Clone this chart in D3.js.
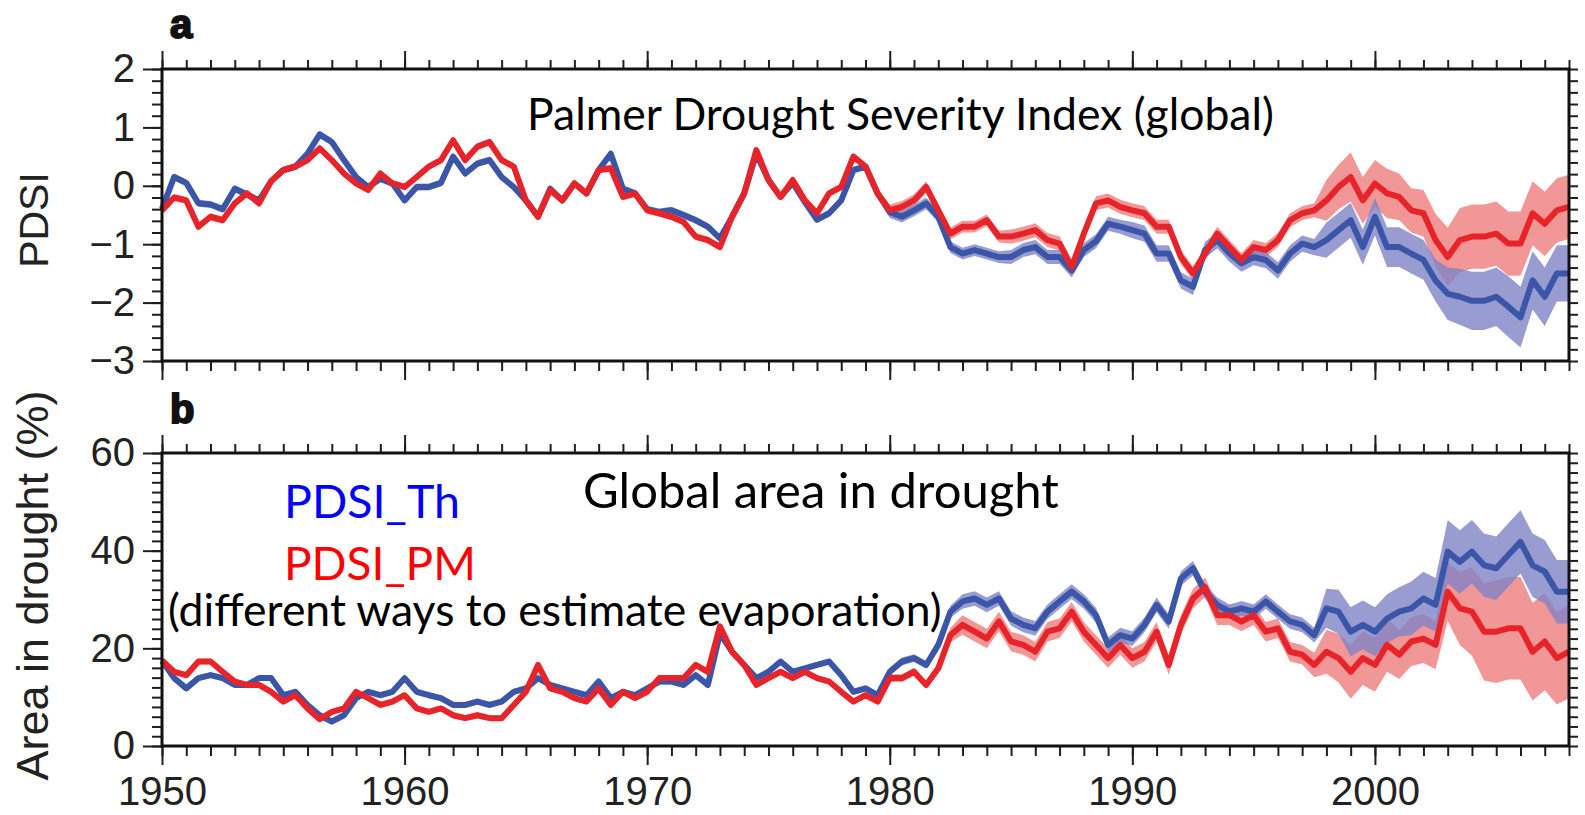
<!DOCTYPE html>
<html>
<head>
<meta charset="utf-8">
<script src="https://cdn.jsdelivr.net/npm/d3@7"></script>
<style>
  html, body { margin: 0; padding: 0; background: #fff; }
  svg { display: block; }
</style>
</head>
<body>
<svg id="chart" width="1585" height="815"></svg>
<script>
// half-year steps, 1950.0 .. 2008.0
const years = d3.range(1950, 2008.25, 0.5);

// panel a: global PDSI
const pdsiTh = [
  -0.40, 0.15, 0.05, -0.30, -0.32, -0.40, -0.05, -0.15, -0.25, 0.08,
  0.27, 0.33, 0.55, 0.88, 0.75, 0.44, 0.15, -0.02, 0.12, 0.04,
  -0.25, -0.02, -0.02, 0.05, 0.50, 0.21, 0.38, 0.44, 0.15, -0.02,
  -0.25, -0.53, -0.05, -0.25, 0.04, -0.13, 0.27, 0.55, -0.05, -0.13,
  -0.40, -0.45, -0.42, -0.50, -0.59, -0.70, -0.90, -0.53, -0.13, 0.55,
  0.10, -0.19, 0.05, -0.28, -0.58, -0.47, -0.25, 0.27, 0.33, -0.13,
  -0.45, -0.53, -0.42, -0.30, -0.53, -1.05, -1.16, -1.10, -1.16, -1.22,
  -1.22, -1.10, -1.05, -1.22, -1.22, -1.45, -1.10, -0.95, -0.65, -0.70,
  -0.76, -0.82, -1.16, -1.16, -1.62, -1.73, -1.10, -0.93, -1.16, -1.33,
  -1.22, -1.27, -1.45, -1.16, -0.99, -1.05, -0.93, -0.76, -0.59, -1.05,
  -0.53, -1.05, -1.05, -1.16, -1.27, -1.62, -1.85, -1.90, -1.97, -1.97,
  -1.90, -2.07, -2.25, -1.62, -1.90, -1.50, -1.50
];
const pdsiPM = [
  -0.42, -0.20, -0.25, -0.70, -0.53, -0.59, -0.30, -0.13, -0.30, 0.08,
  0.27, 0.33, 0.44, 0.64, 0.44, 0.21, 0.04, -0.07, 0.21, 0.04,
  -0.02, 0.15, 0.33, 0.44, 0.78, 0.44, 0.67, 0.75, 0.44, 0.33,
  -0.25, -0.53, -0.07, -0.25, 0.04, -0.13, 0.27, 0.30, -0.19, -0.13,
  -0.42, -0.47, -0.53, -0.62, -0.87, -0.93, -1.05, -0.53, -0.13, 0.61,
  0.10, -0.19, 0.10, -0.25, -0.47, -0.13, -0.02, 0.50, 0.33, -0.13,
  -0.42, -0.36, -0.25, -0.02, -0.42, -0.82, -0.70, -0.70, -0.59, -0.87,
  -0.87, -0.82, -0.76, -0.93, -0.99, -1.39, -0.82, -0.30, -0.25, -0.36,
  -0.42, -0.47, -0.70, -0.70, -1.22, -1.50, -1.16, -0.82, -1.05, -1.27,
  -1.05, -1.10, -0.93, -0.59, -0.47, -0.42, -0.25, -0.02, 0.15, -0.25,
  0.04, -0.13, -0.19, -0.42, -0.47, -0.93, -1.22, -0.93, -0.87, -0.87,
  -0.82, -0.99, -0.99, -0.47, -0.65, -0.42, -0.36
];
// uncertainty half-widths
const pdsiThSpread = [
  0.06, 0.06, 0.06, 0.06, 0.06, 0.06, 0.06, 0.06, 0.06, 0.06,
  0.06, 0.06, 0.06, 0.06, 0.06, 0.06, 0.06, 0.06, 0.06, 0.06,
  0.06, 0.06, 0.06, 0.06, 0.06, 0.06, 0.06, 0.06, 0.06, 0.06,
  0.06, 0.06, 0.06, 0.06, 0.06, 0.06, 0.06, 0.06, 0.06, 0.06,
  0.06, 0.06, 0.06, 0.06, 0.06, 0.06, 0.06, 0.06, 0.06, 0.06,
  0.06, 0.06, 0.06, 0.06, 0.06, 0.06, 0.06, 0.06, 0.06, 0.06,
  0.10, 0.10, 0.10, 0.10, 0.10, 0.10, 0.10, 0.10, 0.10, 0.10,
  0.12, 0.12, 0.12, 0.12, 0.12, 0.12, 0.12, 0.12, 0.12, 0.12,
  0.14, 0.14, 0.14, 0.14, 0.14, 0.14, 0.14, 0.14, 0.14, 0.14,
  0.14, 0.14, 0.14, 0.14, 0.14, 0.14, 0.30, 0.30, 0.30, 0.30,
  0.32, 0.34, 0.34, 0.34, 0.34, 0.36, 0.45, 0.48, 0.50, 0.50,
  0.50, 0.52, 0.52, 0.50, 0.50, 0.48, 0.48
];
const pdsiPMSpread = [
  0.06, 0.06, 0.06, 0.06, 0.06, 0.06, 0.06, 0.06, 0.06, 0.06,
  0.06, 0.06, 0.06, 0.06, 0.06, 0.06, 0.06, 0.06, 0.06, 0.06,
  0.06, 0.06, 0.06, 0.06, 0.06, 0.06, 0.06, 0.06, 0.06, 0.06,
  0.06, 0.06, 0.06, 0.06, 0.06, 0.06, 0.06, 0.06, 0.06, 0.06,
  0.06, 0.06, 0.06, 0.06, 0.06, 0.06, 0.06, 0.06, 0.06, 0.06,
  0.06, 0.06, 0.06, 0.06, 0.06, 0.06, 0.06, 0.06, 0.06, 0.06,
  0.10, 0.10, 0.10, 0.10, 0.10, 0.10, 0.10, 0.10, 0.10, 0.10,
  0.12, 0.12, 0.12, 0.12, 0.12, 0.12, 0.12, 0.12, 0.12, 0.12,
  0.12, 0.12, 0.12, 0.12, 0.12, 0.12, 0.12, 0.12, 0.12, 0.12,
  0.12, 0.12, 0.12, 0.12, 0.12, 0.12, 0.35, 0.38, 0.42, 0.40,
  0.40, 0.42, 0.40, 0.38, 0.40, 0.45, 0.50, 0.55, 0.55, 0.55,
  0.55, 0.55, 0.55, 0.55, 0.55, 0.55, 0.55
];

// panel b: global area in drought (%)
const areaTh = [
  17.5, 13.9, 11.8, 13.9, 14.5, 13.9, 12.5, 12.5, 13.9, 13.9,
  10.4, 11.1, 8.4, 6.3, 5.0, 6.3, 9.8, 11.1, 10.4, 11.1,
  13.9, 11.1, 10.4, 9.8, 8.4, 8.4, 9.1, 8.4, 9.1, 11.1,
  11.8, 13.9, 12.5, 11.8, 11.1, 10.4, 13.2, 9.8, 11.1, 10.4,
  11.8, 13.2, 13.2, 12.5, 14.5, 12.5, 23.0, 19.3, 16.6, 13.9,
  15.2, 17.3, 15.2, 15.9, 16.6, 17.3, 14.5, 11.1, 11.8, 10.4,
  15.2, 17.3, 18.0, 16.6, 20.7, 27.5, 29.6, 30.2, 28.9, 30.2,
  26.1, 24.8, 24.1, 27.5, 29.6, 31.6, 29.6, 26.8, 20.7, 22.7,
  22.0, 24.8, 28.9, 25.5, 34.3, 36.4, 31.6, 28.9, 27.5, 28.2,
  27.5, 29.6, 27.5, 25.5, 24.8, 22.7, 28.2, 27.5, 23.4, 24.8,
  23.4, 26.1, 27.5, 28.2, 30.2, 28.9, 39.8, 37.7, 39.8, 37.0,
  36.4, 39.1, 41.8, 37.0, 35.7, 31.6, 31.6
];
const areaPM = [
  17.5, 15.2, 14.5, 17.3, 17.3, 15.2, 13.2, 12.5, 12.5, 11.1,
  9.1, 10.4, 7.7, 5.5, 7.0, 7.7, 11.1, 9.8, 8.4, 9.1,
  10.4, 7.7, 7.0, 7.7, 6.3, 5.7, 6.3, 5.7, 5.7, 8.4,
  11.1, 16.6, 11.8, 11.1, 9.8, 9.1, 11.8, 8.4, 11.1, 9.8,
  11.1, 13.9, 13.9, 13.9, 16.6, 15.2, 24.5, 19.3, 16.6, 12.5,
  13.9, 15.2, 13.9, 15.2, 13.9, 13.2, 11.1, 9.1, 10.4, 9.1,
  13.9, 13.9, 15.2, 12.5, 15.9, 22.7, 24.8, 23.4, 22.0, 25.5,
  21.4, 20.7, 19.3, 23.4, 24.1, 27.5, 23.4, 20.7, 18.0, 20.7,
  18.0, 19.3, 23.4, 16.6, 24.8, 30.2, 32.5, 26.8, 26.8, 25.5,
  26.8, 23.4, 24.1, 19.3, 18.7, 16.6, 19.3, 18.0, 15.2, 18.0,
  16.6, 20.7, 18.7, 21.4, 22.0, 20.7, 31.6, 28.2, 27.5, 23.4,
  23.4, 24.1, 24.1, 19.3, 21.4, 18.0, 19.3
];
const areaThSpread = [
  0.6, 0.6, 0.6, 0.6, 0.6, 0.6, 0.6, 0.6, 0.6, 0.6,
  0.6, 0.6, 0.6, 0.6, 0.6, 0.6, 0.6, 0.6, 0.6, 0.6,
  0.6, 0.6, 0.6, 0.6, 0.6, 0.6, 0.6, 0.6, 0.6, 0.6,
  0.6, 0.6, 0.6, 0.6, 0.6, 0.6, 0.6, 0.6, 0.6, 0.6,
  0.6, 0.6, 0.6, 0.6, 0.6, 0.6, 0.6, 0.6, 0.6, 0.6,
  0.6, 0.6, 0.6, 0.6, 0.6, 0.6, 0.6, 0.6, 0.6, 0.6,
  0.8, 0.8, 0.8, 0.8, 1.0, 1.2, 1.5, 1.5, 1.5, 1.5,
  1.5, 1.5, 1.5, 1.5, 1.5, 1.5, 1.5, 1.5, 1.5, 1.5,
  1.5, 1.5, 1.5, 1.5, 1.5, 1.5, 1.5, 1.5, 1.5, 1.5,
  1.5, 1.5, 1.5, 1.5, 1.5, 1.5, 4.0, 4.5, 5.0, 5.0,
  5.0, 5.0, 5.0, 5.5, 5.5, 5.5, 6.5, 6.5, 6.5, 6.5,
  6.5, 6.5, 6.5, 6.5, 6.5, 6.5, 6.5
];
const areaPMSpread = [
  0.6, 0.6, 0.6, 0.6, 0.6, 0.6, 0.6, 0.6, 0.6, 0.6,
  0.6, 0.6, 0.6, 0.6, 0.6, 0.6, 0.6, 0.6, 0.6, 0.6,
  0.6, 0.6, 0.6, 0.6, 0.6, 0.6, 0.6, 0.6, 0.6, 0.6,
  0.6, 0.6, 0.6, 0.6, 0.6, 0.6, 0.6, 0.6, 0.6, 0.6,
  0.6, 0.6, 0.6, 0.6, 0.6, 0.6, 0.6, 0.6, 0.6, 0.6,
  0.6, 0.6, 0.6, 0.6, 0.6, 0.6, 0.6, 0.6, 0.6, 0.6,
  0.8, 0.8, 0.8, 0.8, 1.0, 1.5, 2.0, 2.0, 2.0, 2.0,
  2.0, 2.0, 2.0, 2.0, 2.0, 2.0, 2.0, 2.0, 2.0, 2.0,
  2.0, 2.0, 2.0, 2.0, 2.0, 2.0, 2.0, 2.0, 2.0, 2.0,
  2.0, 2.0, 2.0, 2.0, 2.0, 2.5, 4.5, 5.0, 5.5, 5.5,
  5.5, 5.5, 5.0, 5.0, 5.0, 5.0, 6.0, 7.5, 9.0, 10.0,
  10.5, 10.5, 10.5, 10.0, 10.0, 9.5, 9.5
];

// tick values
const decadeTicks = [1950, 1960, 1970, 1980, 1990, 2000];
const yearTicks = d3.range(1950, 2009, 1);
const pdsiTicks = [-3, -2, -1, 0, 1, 2];
const pdsiMinor = d3.range(-15, 11).map(d => d / 5);
const areaTicks = [0, 20, 40, 60];
const areaMinor = d3.range(0, 61, 2);

const thColor = '#3b55a8', pmColor = '#e8242b';
const thBand = '#7f83c6', pmBand = '#f08585';
const axisColor = '#1e1e1e';
const numFont = '"Liberation Sans", Arial, Helvetica, sans-serif';
const noteFont = 'Lato, "Open Sans", sans-serif';

const svg = d3.select('#chart');
const x = d3.scaleLinear().domain([1950, 2008]).range([162, 1569]);

function styleAxis(g) {
  g.select('.domain').remove();
  g.selectAll('line').attr('stroke', axisColor).attr('stroke-width', 2);
  g.selectAll('text')
    .attr('fill', '#222')
    .style('font-family', numFont)
    .style('font-size', '40px');
}

function drawPanel(p) {
  const y = d3.scaleLinear().domain(p.domain).range(p.range);
  const bottom = p.range[0], top = p.range[1];
  const g = svg.append('g');

  // bands first, red under blue
  p.series.slice().reverse().forEach(s => {
    const band = d3.area()
      .x((d, i) => x(years[i]))
      .y0((d, i) => y(d - s.spread[i]))
      .y1((d, i) => y(d + s.spread[i]));
    g.append('path').datum(s.values)
      .attr('d', band)
      .attr('fill', s.band)
      .attr('fill-opacity', s.bandOpacity);
  });

  p.series.forEach(s => {
    const line = d3.line().x((d, i) => x(years[i])).y(d => y(d));
    g.append('path').datum(s.values)
      .attr('d', line)
      .attr('fill', 'none')
      .attr('stroke', s.color)
      .attr('stroke-width', 6)
      .attr('stroke-linejoin', 'round');
  });

  // ticks on all four sides
  const nofmt = () => '';
  g.append('g').attr('transform', `translate(0,${top})`)
    .call(d3.axisTop(x).tickValues(yearTicks).tickSize(9).tickFormat(nofmt)).call(styleAxis);
  g.append('g').attr('transform', `translate(0,${top})`)
    .call(d3.axisTop(x).tickValues(decadeTicks).tickSize(18).tickFormat(nofmt)).call(styleAxis);
  g.append('g').attr('transform', `translate(0,${bottom})`)
    .call(d3.axisBottom(x).tickValues(yearTicks).tickSize(10).tickFormat(nofmt)).call(styleAxis);
  g.append('g').attr('transform', `translate(0,${bottom})`)
    .call(d3.axisBottom(x).tickValues(decadeTicks).tickSize(19).tickPadding(12)
      .tickFormat(p.xLabels ? d3.format('d') : nofmt))
    .call(styleAxis);

  g.append('g').attr('transform', `translate(${x.range()[0]},0)`)
    .call(d3.axisLeft(y).tickValues(p.minor).tickSize(10).tickFormat(nofmt)).call(styleAxis);
  g.append('g').attr('transform', `translate(${x.range()[0]},0)`)
    .call(d3.axisLeft(y).tickValues(p.major).tickSize(19).tickPadding(8).tickFormat(p.fmt)).call(styleAxis);
  g.append('g').attr('transform', `translate(${x.range()[1]},0)`)
    .call(d3.axisRight(y).tickValues(p.minor).tickSize(9).tickFormat(nofmt)).call(styleAxis);

  // frame
  g.append('rect')
    .attr('x', x.range()[0]).attr('y', top)
    .attr('width', x.range()[1] - x.range()[0]).attr('height', bottom - top)
    .attr('fill', 'none').attr('stroke', '#111').attr('stroke-width', 3);

  // panel letter
  svg.append('text')
    .attr('x', 170).attr('y', p.letterY)
    .attr('font-family', numFont).attr('font-weight', 'bold').attr('font-size', 40)
    .attr('fill', '#111').attr('stroke', '#111').attr('stroke-width', 2)
    .text(p.letter);

  // y title
  svg.append('text')
    .attr('transform', `translate(48,${(top + bottom) / 2 + p.titleShift}) rotate(-90)`)
    .attr('text-anchor', 'middle')
    .attr('font-family', numFont).attr('font-size', p.titleSize)
    .attr('fill', '#222')
    .text(p.title);
}

drawPanel({
  domain: [-3, 2], range: [361, 69],
  major: pdsiTicks, minor: pdsiMinor, fmt: d3.format('d'),
  xLabels: false, letter: 'a', letterY: 38,
  title: 'PDSI', titleSize: 41, titleShift: 5,
  series: [
    { values: pdsiTh, spread: pdsiThSpread, color: thColor, band: thBand, bandOpacity: 0.8 },
    { values: pdsiPM, spread: pdsiPMSpread, color: pmColor, band: pmBand, bandOpacity: 0.85 }
  ]
});

drawPanel({
  domain: [0, 60], range: [746, 453],
  major: areaTicks, minor: areaMinor, fmt: d3.format('d'),
  xLabels: true, letter: 'b', letterY: 423,
  title: 'Area in drought (%)', titleSize: 45, titleShift: -14,
  series: [
    { values: areaTh, spread: areaThSpread, color: thColor, band: thBand, bandOpacity: 0.8 },
    { values: areaPM, spread: areaPMSpread, color: pmColor, band: pmBand, bandOpacity: 0.85 }
  ]
});

// annotations
const notes = [
  { text: 'Palmer Drought Severity Index (global)', x: 527, y: 130, size: 44.5, color: '#000' },
  { text: 'Global area in drought', x: 583, y: 508, size: 49, color: '#000' },
  { text: 'PDSI_Th', x: 284, y: 518, size: 46.5, color: '#0000ff' },
  { text: 'PDSI_PM', x: 284, y: 580, size: 46, color: '#ff0000' },
  { text: '(different ways to estimate evaporation)', x: 168, y: 626, size: 44.5, color: '#000' }
];
svg.selectAll('text.note').data(notes).enter().append('text')
  .attr('class', 'note')
  .attr('x', d => d.x).attr('y', d => d.y)
  .attr('font-family', noteFont).attr('font-size', d => d.size)
  .attr('fill', d => d.color)
  .text(d => d.text);
</script>
</body>
</html>
